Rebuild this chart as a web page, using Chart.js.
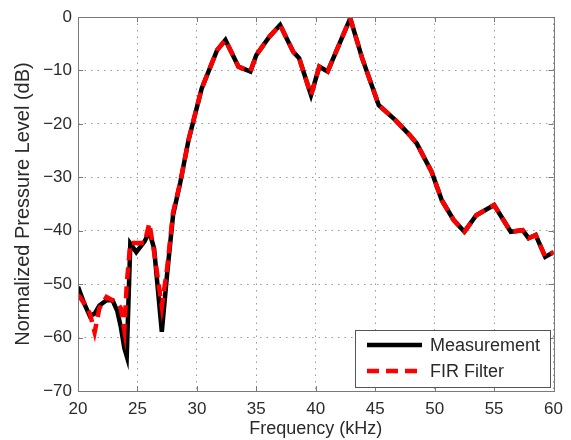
<!DOCTYPE html>
<html>
<head>
<meta charset="utf-8">
<script src="https://cdn.jsdelivr.net/npm/chart.js@4.4.1/dist/chart.umd.min.js"></script>
<style>
  html, body { margin: 0; padding: 0; background: #ffffff; }
  canvas { display: block; }
</style>
</head>
<body>
<canvas id="chartResposta" width="571" height="440"></canvas>
<script>
// frequencias (kHz) e niveis (dB)
const freqKHz = [20.0, 20.5, 21.0, 21.4, 21.8, 22.4, 22.9, 23.3, 23.6, 23.9, 24.1, 24.4, 24.9, 25.6, 26.0, 26.4, 27.05, 27.5, 28.0, 28.6, 29.3, 30.4, 31.7, 32.4, 33.5, 34.5, 35.0, 36.1, 37.0, 38.1, 38.6, 39.6, 40.3, 41.0, 42.9, 43.9, 45.3, 46.7, 47.9, 48.5, 49.75, 50.6, 51.6, 52.5, 53.5, 55.0, 56.4, 57.4, 57.9, 58.5, 59.3, 60.0];
const medicao = [-50.5, -53.5, -56, -55.5, -54, -53, -53, -55, -58, -62, -63.5, -42.4, -44, -42, -40.2, -43.3, -58.9, -48, -37, -31, -23, -13.4, -6.2, -4.3, -9.3, -10.2, -7.1, -3.7, -1.5, -6.5, -7.7, -14.6, -9.3, -10.2, -0.25, -7.7, -16.5, -19.3, -22.1, -23.7, -29, -34.3, -38, -40.2, -37.1, -35.2, -40.2, -39.9, -41.4, -40.8, -44.9, -44];
const filtroFIR = [-52, -53.5, -55.5, -59, -54.5, -52.4, -53, -53.5, -54.5, -58.6, -50, -42.3, -42.3, -42.3, -38.6, -44, -54.2, -47, -36.5, -31, -23, -13.4, -6.2, -4.3, -9.3, -10.2, -7.1, -3.7, -1.5, -6.5, -7.7, -14.6, -9.3, -10.2, -0.25, -7.7, -16.5, -19.3, -22.1, -23.7, -29, -34.3, -38, -40.2, -37.1, -35.2, -40.2, -39.9, -41.4, -40.8, -44.9, -44];
const xTicks = [20, 25, 30, 35, 40, 45, 50, 55, 60];
const yTicks = [0, -10, -20, -30, -40, -50, -60, -70];
const legendas = ['Measurement', 'FIR Filter'];

const FONTE = '"Liberation Sans", Arial, sans-serif';

// moldura, ticks internos e legenda estilo MATLAB
const molduraPlugin = {
    id: 'moldura',
    beforeDraw(chart) {
        const ctx = chart.ctx;
        ctx.save();
        ctx.fillStyle = '#ffffff';
        ctx.fillRect(0, 0, chart.width, chart.height);
        ctx.restore();
    },
    afterDatasetsDraw(chart) {
        const { ctx, chartArea: a, scales } = chart;
        ctx.save();
        ctx.strokeStyle = '#7a7a7a';
        ctx.lineWidth = 1;
        ctx.strokeRect(Math.round(a.left) + 0.5, Math.round(a.top) + 0.5, Math.round(a.right - a.left), Math.round(a.bottom - a.top));
        const tl = 5;
        ctx.beginPath();
        xTicks.forEach(v => {
            const px = Math.round(scales.x.getPixelForValue(v)) + 0.5;
            ctx.moveTo(px, a.bottom); ctx.lineTo(px, a.bottom - tl);
            ctx.moveTo(px, a.top); ctx.lineTo(px, a.top + tl);
        });
        yTicks.forEach(v => {
            const py = Math.round(scales.y.getPixelForValue(v)) + 0.5;
            ctx.moveTo(a.left, py); ctx.lineTo(a.left + tl, py);
            ctx.moveTo(a.right, py); ctx.lineTo(a.right - tl, py);
        });
        ctx.stroke();

        // legenda
        const bx = 355.5, by = 330.5, bw = 195, bh = 57;
        ctx.fillStyle = '#ffffff';
        ctx.fillRect(bx, by, bw, bh);
        ctx.strokeStyle = '#555555';
        ctx.strokeRect(bx, by, bw, bh);
        const ds = chart.data.datasets;
        const linhas = [{ ds: ds[1], y: 345 }, { ds: ds[0], y: 371 }];
        linhas.forEach(l => {
            ctx.beginPath();
            ctx.strokeStyle = l.ds.borderColor;
            ctx.lineWidth = l.ds.borderWidth;
            ctx.setLineDash(l.ds.borderDash || []);
            ctx.moveTo(367, l.y); ctx.lineTo(422, l.y);
            ctx.stroke();
            ctx.setLineDash([]);
            ctx.fillStyle = '#2a2a2a';
            ctx.font = '18px ' + FONTE;
            ctx.textBaseline = 'middle';
            ctx.fillText(l.ds.label, 430, l.y + 1);
        });
        ctx.restore();
    }
};

new Chart(document.getElementById('chartResposta'), {
    type: 'line',
    data: {
        datasets: [
            {
                label: legendas[1],
                data: freqKHz.map((f, i) => ({ x: f, y: filtroFIR[i] })),
                borderColor: '#ff0000',
                borderWidth: 4.5,
                borderDash: [12, 7],
                pointRadius: 0,
                tension: 0,
                order: 0
            },
            {
                label: legendas[0],
                data: freqKHz.map((f, i) => ({ x: f, y: medicao[i] })),
                borderColor: '#000000',
                borderWidth: 4.5,
                pointRadius: 0,
                tension: 0,
                order: 1
            }
        ]
    },
    options: {
        responsive: false,
        animation: false,
        layout: { padding: { left: 0, right: 13, top: 17, bottom: 0 } },
        plugins: { legend: { display: false }, tooltip: { enabled: false } },
        scales: {
            x: {
                type: 'linear',
                min: 20, max: 60,
                afterBuildTicks: s => { s.ticks = xTicks.map(v => ({ value: v })); },
                afterFit: s => { s.height = 49; },
                ticks: { color: '#2a2a2a', font: { family: FONTE, size: 17 }, padding: 8, maxRotation: 0 },
                grid: { color: '#999999', lineWidth: 1, drawTicks: false },
                border: { display: false, dash: [1.5, 5] },
                title: { display: true, text: 'Frequency (kHz)', color: '#2a2a2a', font: { family: FONTE, size: 18 }, padding: { top: 0, bottom: 0 } }
            },
            y: {
                min: -70, max: 0,
                afterBuildTicks: s => { s.ticks = yTicks.map(v => ({ value: v })); },
                afterFit: s => { s.width = 78; },
                ticks: {
                    color: '#2a2a2a', font: { family: FONTE, size: 17 }, padding: 6,
                    callback: v => String(v).replace('-', '\u2212')
                },
                grid: { color: '#999999', lineWidth: 1, drawTicks: false },
                border: { display: false, dash: [1.5, 5] },
                title: { display: true, text: 'Normalized Pressure Level (dB)', color: '#2a2a2a', font: { family: FONTE, size: 20 }, padding: { top: 11, bottom: 0 } }
            }
        }
    },
    plugins: [molduraPlugin]
});
</script>
</body>
</html>
